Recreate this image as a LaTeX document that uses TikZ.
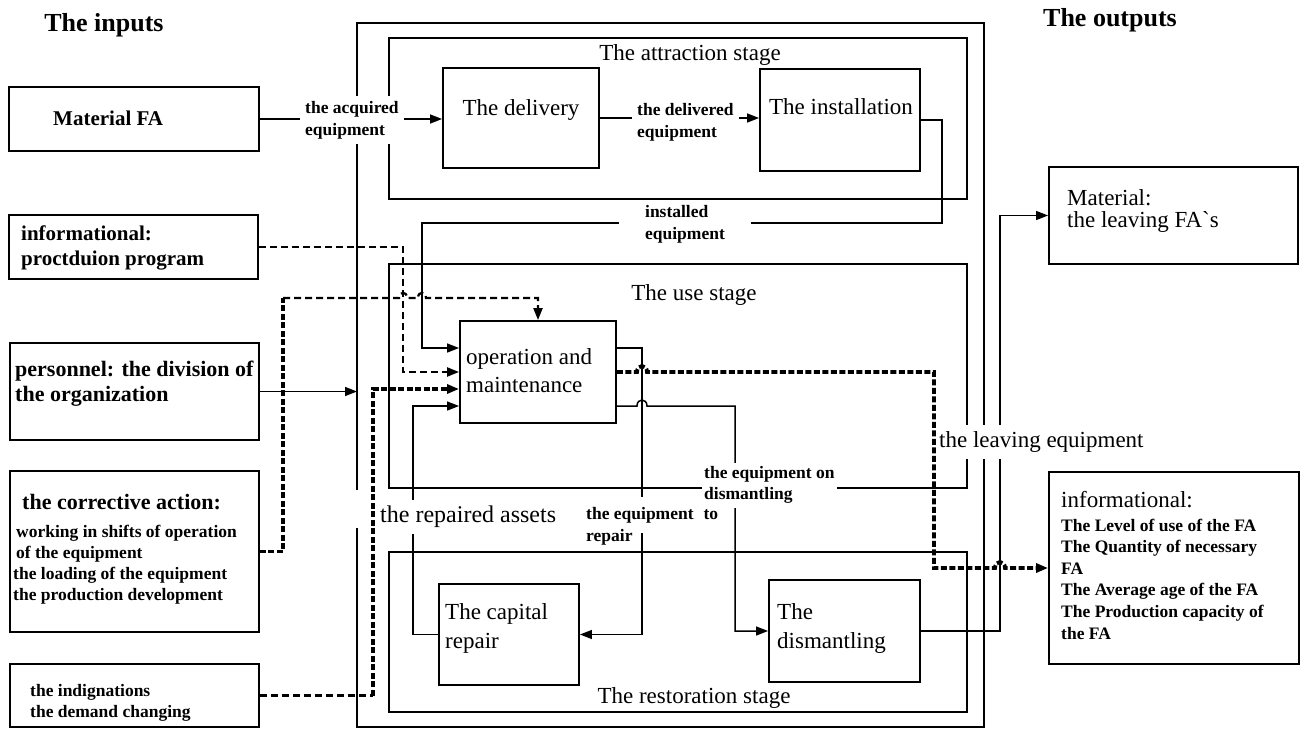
\documentclass[tikz,border=0pt]{standalone}
\usepackage{fontspec}
\setmainfont{Liberation Serif}
\usetikzlibrary{arrows.meta}
\begin{document}
\begin{tikzpicture}[x=1pt,y=-1pt,
  box/.style={draw, line width=1.9pt, inner sep=0pt},
  stagebox/.style={draw, line width=1.3pt, inner sep=0pt},
  line/.style={line width=1.5pt},
  dsh/.style={line width=2.2pt, dash pattern=on 7pt off 4pt},
  thk/.style={line width=3.8pt, dash pattern=on 6pt off 2.5pt},
  tip/.style={-{Triangle[length=12pt,width=9pt]}},
  big/.style={font=\fontsize{23}{28}\selectfont, inner sep=0pt},
  bl/.style={font=\bfseries\fontsize{21}{25}\selectfont, inner sep=0pt, align=left},
  sm/.style={font=\bfseries\fontsize{17.5}{22}\selectfont, inner sep=0pt, align=left},
  ttl/.style={font=\bfseries\fontsize{26}{30}\selectfont, inner sep=0pt},
  wh/.style={fill=white},
]
\useasboundingbox (0,0) rectangle (1306,728);

% input boxes
\node[box, minimum width=250pt, minimum height=64pt] (mfa) at (134,119) {};
\node[box, minimum width=249pt, minimum height=64pt] (info) at (133.5,247) {};
\node[box, minimum width=249pt, minimum height=97pt] (pers) at (134.5,391.5) {};
\node[box, minimum width=249pt, minimum height=161pt] (corr) at (134.5,551.5) {};
\node[box, minimum width=249pt, minimum height=63pt] (ind) at (134.5,695.5) {};

% outer box
\draw[line width=1.9pt] (357,490) -- (357,23) -- (984,23) -- (984,727) -- (357,727) -- (357,528);

% stage boxes
\node[stagebox, minimum width=578pt, minimum height=161pt] (attr) at (678,118.5) {};
\node[stagebox, minimum width=578pt, minimum height=224pt] (use) at (678,376) {};
\node[stagebox, minimum width=578pt, minimum height=160pt] (rest) at (678,632) {};

% process boxes
\node[box, minimum width=156pt, minimum height=100pt] (deliv) at (521,118) {};
\node[box, minimum width=160pt, minimum height=102pt] (inst) at (840,120) {};
\node[box, minimum width=156pt, minimum height=102pt] (op) at (538,372) {};
\node[box, minimum width=140pt, minimum height=101pt] (cap) at (509,634.5) {};
\node[box, minimum width=151pt, minimum height=102pt] (dism) at (844.5,631) {};

% output boxes
\node[box, minimum width=249pt, minimum height=97pt] (matout) at (1173.5,215.5) {};
\node[box, minimum width=250pt, minimum height=192pt] (infoout) at (1174,568) {};

% connectors
\draw[line, tip] (mfa.east) -- (deliv.west |- mfa.east);
\draw[line, tip] (deliv.east) -- (deliv.east -| inst.west);
\draw[line, tip] (inst.east) -| (942,223) -| (422,348) -- (op.west |- 0,348);
\draw[dsh, tip] (info.east) -| (403,372) -- (op.west |- 0,372);
\coordinate (pin) at (357,391.5);
\draw[line, tip] (pers.east) -- (pin);
\draw[thk] (corr.east) -| (283,298);
\draw[dsh, tip] (283,298) -- (399,298) .. controls (399,291) and (407,291) .. (407,298)
   -- (418,298) .. controls (418,291) and (426,291) .. (426,298) -- (538,298) -- (op.north);
\draw[dsh] (ind.east) -- (373,695.5);
\draw[thk, tip] (373,695.5) -- (373,389) -- (op.west |- 0,389);
\draw[line, tip] (cap.west) -| (413,406) -- (op.west |- 0,406);
\draw[line, tip] (op.east |- 0,348) -| (642,634.5) -- (cap.east);
\draw[line, tip] (op.east |- 0,406) -- (637,406) .. controls (637,398) and (647,398) .. (647,406)
   -- (735,406) -- (735,631) -- (dism.west);
\draw[thk, tip] (op.east |- 0,372) -- (637,372) .. controls (637,364) and (647,364) .. (647,372)
   -- (934,372) -- (934,568) -- (995,568) .. controls (995,560) and (1005,560) .. (1005,568) -- (infoout.west);
\draw[line, tip] (dism.east) -- (1000,631) |- (matout.west);

% connector labels
\node[sm, wh, anchor=west, inner xsep=5pt, inner ysep=5pt] (lacq) at (300,120) {the acquired\\equipment};
\node[sm, wh, anchor=west, inner xsep=5pt, inner ysep=3pt] (ldel) at (632,122) {the delivered\\equipment};
\node[sm, wh, inner xsep=26pt, inner ysep=3pt] (lins) at (685,224) {installed\\equipment};
\node[big, wh, anchor=west, inner xsep=2pt, inner ysep=6pt, font=\fontsize{24}{28}\selectfont] (lrep) at (378,517) {the repaired assets};
\node[sm, wh, anchor=west, inner xsep=2pt, inner ysep=10pt] (lrep2) at (584,515) {the equipment\hspace{10pt}to};
\node[sm, anchor=west] (lrep3) at (586,537) {repair};
\node[sm, wh, anchor=west, inner xsep=2pt, inner ysep=4pt, font=\bfseries\fontsize{17.5}{21}\selectfont] (ldis) at (702,485) {the equipment on\\dismantling};
\node[big, wh, anchor=west, inner xsep=1pt, inner ysep=7pt] (lleave) at (938,442) {the leaving equipment};

% titles
\node[ttl] (tin) at (104,25) {The inputs};
\node[ttl] (tout) at (1110,20) {The outputs};

% input texts
\node[bl, anchor=west] (tmfa) at (53,118) {Material FA};
\node[bl, anchor=west] (tinfo) at (21,248) {informational:\\proctduion program};
\node[bl, anchor=west, font=\bfseries\fontsize{22}{25}\selectfont] (tpers) at (15,384) {personnel: the division of\\the organization};
\node[bl, anchor=west, font=\bfseries\fontsize{22}{26}\selectfont] (tcorr) at (22,502) {the corrective action:};
\node[sm, anchor=west, font=\bfseries\fontsize{17.5}{21}\selectfont] (tcorr2) at (13,565) {\hspace*{3pt}working in shifts of operation\\\hspace*{3pt}of the equipment\\the loading of the equipment\\the production development};
\node[sm, anchor=west, font=\bfseries\fontsize{17.5}{21}\selectfont] (tind) at (30,703) {the indignations\\the demand changing};

% stage and process texts
\node[big] (tattr) at (690,55) {The attraction stage};
\node[big] (tdel) at (521,110) {The delivery};
\node[big] (tinst) at (841,107) {The installation};
\node[big] (tuse) at (694,295) {The use stage};
\node[big, anchor=west, align=left] (top) at (466,371) {operation and\\maintenance};
\node[big, anchor=west, align=left, font=\fontsize{23}{29}\selectfont] (tcap) at (445,628) {The capital\\repair};
\node[big, anchor=west, align=left, font=\fontsize{23}{29}\selectfont] (tdism) at (777,628) {The\\dismantling};
\node[big] (trest) at (694,698) {The restoration stage};

% output texts
\node[big, anchor=west, align=left, font=\fontsize{23}{22}\selectfont] (tmat) at (1067,211) {Material:\\the leaving FA\textasciigrave s};
\node[big, anchor=west] (tinfo2) at (1061,500) {informational:};
\node[sm, anchor=west, font=\bfseries\fontsize{17.5}{21.6}\selectfont] (tinfo3) at (1061,579) {The Level of use of the FA\\The Quantity of necessary\\FA\\The Average age of the FA\\The Production capacity of\\the FA};
\end{tikzpicture}
\end{document}
